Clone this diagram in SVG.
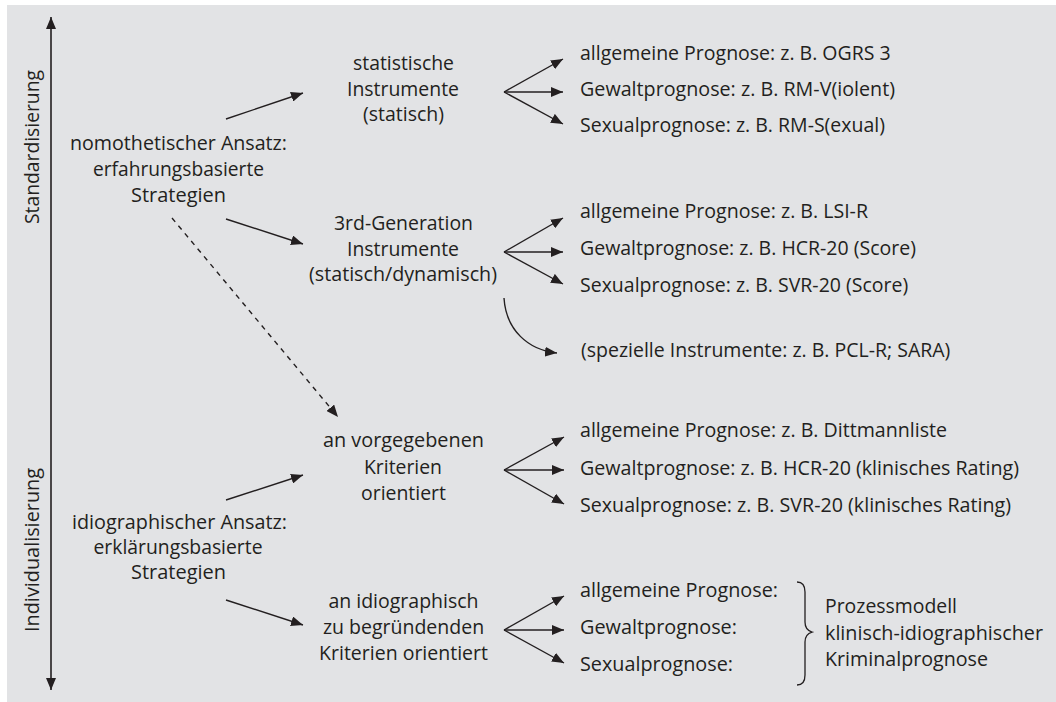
<svg xmlns="http://www.w3.org/2000/svg" width="1056" height="702" viewBox="0 0 1056 702">
<defs>
<marker id="ah" viewBox="0 0 12 10" refX="12" refY="5" markerWidth="12" markerHeight="10" markerUnits="userSpaceOnUse" orient="auto-start-reverse">
<path d="M0,0 L12,5 L0,10 z" fill="#231f20"/>
</marker>
<style>
text{font-family:"Open Sans","Noto Sans",sans-serif;font-size:19.5px;fill:#231f20}
.c{text-anchor:middle}
.ln{stroke:#231f20;stroke-width:1.4;fill:none;marker-end:url(#ah)}
.dash{stroke-dasharray:5,5}
</style>
</defs>
<rect x="0" y="0" width="1056" height="702" fill="#ffffff"/>
<rect x="7" y="5" width="1049" height="697" fill="#e2e3e5"/>

<g id="axis">
<line x1="51" y1="17" x2="51" y2="690" stroke="#231f20" stroke-width="1.6" marker-start="url(#ah)" marker-end="url(#ah)"/>
<text class="c" transform="translate(39,147) rotate(-90)" textLength="154" lengthAdjust="spacingAndGlyphs">Standardisierung</text>
<text class="c" transform="translate(39,550) rotate(-90)" textLength="164" lengthAdjust="spacingAndGlyphs">Individualisierung</text>
</g>

<g id="nomothetisch">
<text class="c" x="178.5" y="150" textLength="217" lengthAdjust="spacingAndGlyphs">nomothetischer Ansatz:</text>
<text class="c" x="178.5" y="176" textLength="171" lengthAdjust="spacingAndGlyphs">erfahrungsbasierte</text>
<text class="c" x="178.5" y="202" textLength="95" lengthAdjust="spacingAndGlyphs">Strategien</text>
</g>
<g id="idiographisch">
<text class="c" x="179.5" y="529" textLength="215" lengthAdjust="spacingAndGlyphs">idiographischer Ansatz:</text>
<text class="c" x="178" y="554" textLength="169" lengthAdjust="spacingAndGlyphs">erklärungsbasierte</text>
<text class="c" x="178.5" y="579" textLength="95" lengthAdjust="spacingAndGlyphs">Strategien</text>
</g>

<g id="statistisch">
<text class="c" x="403.5" y="70" textLength="101" lengthAdjust="spacingAndGlyphs">statistische</text>
<text class="c" x="403" y="96" textLength="112" lengthAdjust="spacingAndGlyphs">Instrumente</text>
<text class="c" x="403.5" y="121" textLength="81" lengthAdjust="spacingAndGlyphs">(statisch)</text>
</g>
<g id="thirdgen">
<text class="c" x="403.5" y="230" textLength="139" lengthAdjust="spacingAndGlyphs">3rd-Generation</text>
<text class="c" x="403" y="256" textLength="112" lengthAdjust="spacingAndGlyphs">Instrumente</text>
<text class="c" x="403" y="281" textLength="188" lengthAdjust="spacingAndGlyphs">(statisch/dynamisch)</text>
</g>
<g id="vorgegeben">
<text class="c" x="403.5" y="447" textLength="161" lengthAdjust="spacingAndGlyphs">an vorgegebenen</text>
<text class="c" x="403" y="474" textLength="78" lengthAdjust="spacingAndGlyphs">Kriterien</text>
<text class="c" x="403.5" y="500" textLength="85" lengthAdjust="spacingAndGlyphs">orientiert</text>
</g>
<g id="idiobegr">
<text class="c" x="403.5" y="608">an idiographisch</text>
<text class="c" x="403.5" y="634">zu begründenden</text>
<text class="c" x="403.5" y="660">Kriterien orientiert</text>
</g>

<g id="stat-targets">
<text x="580" y="60">allgemeine Prognose: z. B. OGRS 3</text>
<text x="580" y="96" textLength="315" lengthAdjust="spacingAndGlyphs">Gewaltprognose: z. B. RM-V(iolent)</text>
<text x="580" y="132" textLength="305" lengthAdjust="spacingAndGlyphs">Sexualprognose: z. B. RM-S(exual)</text>
</g>
<g id="thirdgen-targets">
<text x="580" y="218" textLength="288" lengthAdjust="spacingAndGlyphs">allgemeine Prognose: z. B. LSI-R</text>
<text x="580" y="255">Gewaltprognose: z. B. HCR-20 (Score)</text>
<text x="580" y="292">Sexualprognose: z. B. SVR-20 (Score)</text>
</g>
<g id="speziell">
<text x="581" y="357">(spezielle Instrumente: z. B. PCL-R; SARA)</text>
</g>
<g id="vorgegeben-targets">
<text x="580" y="437" textLength="367" lengthAdjust="spacingAndGlyphs">allgemeine Prognose: z. B. Dittmannliste</text>
<text x="580" y="475" textLength="439" lengthAdjust="spacingAndGlyphs">Gewaltprognose: z. B. HCR-20 (klinisches Rating)</text>
<text x="580" y="512" textLength="431" lengthAdjust="spacingAndGlyphs">Sexualprognose: z. B. SVR-20 (klinisches Rating)</text>
</g>
<g id="idio-targets">
<text x="580" y="597" textLength="198" lengthAdjust="spacingAndGlyphs">allgemeine Prognose:</text>
<text x="580" y="634" textLength="157" lengthAdjust="spacingAndGlyphs">Gewaltprognose:</text>
<text x="580" y="671" textLength="153" lengthAdjust="spacingAndGlyphs">Sexualprognose:</text>
</g>
<g id="prozessmodell">
<text x="825" y="613" textLength="132" lengthAdjust="spacingAndGlyphs">Prozessmodell</text>
<text x="825" y="640" textLength="218" lengthAdjust="spacingAndGlyphs">klinisch-idiographischer</text>
<text x="825" y="666" textLength="163" lengthAdjust="spacingAndGlyphs">Kriminalprognose</text>
</g>

<g id="connectors">
<line class="ln" x1="226" y1="119" x2="303" y2="93"/>
<line class="ln" x1="226" y1="219" x2="303" y2="244"/>
<line class="ln dash" x1="172" y1="218" x2="338" y2="417"/>
<line class="ln" x1="226" y1="500" x2="303" y2="475"/>
<line class="ln" x1="226" y1="600" x2="303" y2="625"/>

<line class="ln" x1="504" y1="92" x2="563" y2="59"/>
<line class="ln" x1="504" y1="92" x2="563" y2="92"/>
<line class="ln" x1="504" y1="92" x2="563" y2="124"/>

<line class="ln" x1="504" y1="252" x2="563" y2="218"/>
<line class="ln" x1="504" y1="252" x2="563" y2="252"/>
<line class="ln" x1="504" y1="252" x2="563" y2="284"/>

<path class="ln" d="M504,298 C506,330 528,350 557,353"/>

<line class="ln" x1="504" y1="470" x2="564" y2="437"/>
<line class="ln" x1="504" y1="470" x2="564" y2="470"/>
<line class="ln" x1="504" y1="470" x2="564" y2="504"/>

<line class="ln" x1="504" y1="630" x2="564" y2="596"/>
<line class="ln" x1="504" y1="630" x2="564" y2="630"/>
<line class="ln" x1="504" y1="630" x2="564" y2="663"/>

<path d="M797,582 Q805,582 805,592 L805,622 Q805,630 812,632 Q805,634 805,642 L805,675 Q805,685 797,685" stroke="#231f20" stroke-width="1.3" fill="none"/>
</g>
</svg>
